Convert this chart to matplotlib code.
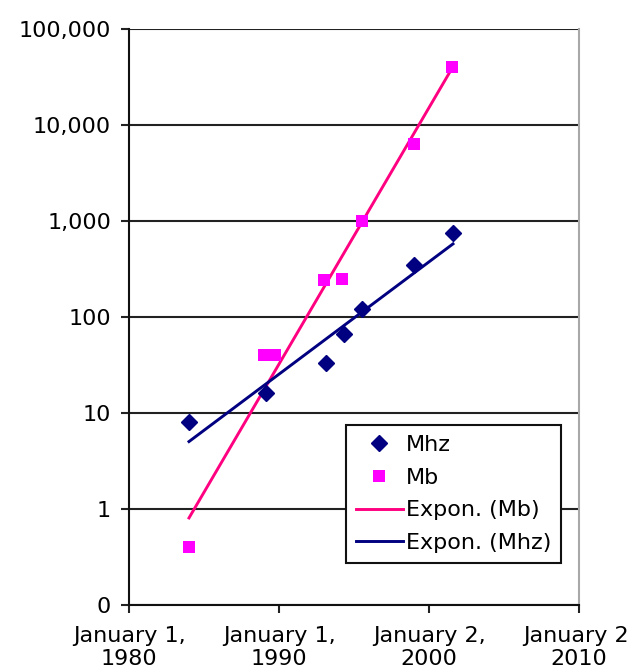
import numpy as np
import matplotlib
matplotlib.use("Agg")
import matplotlib.pyplot as plt
from matplotlib.ticker import FixedLocator, FuncFormatter, NullLocator

# Data (x as decimal years)
mhz_year = [1984.0, 1989.1, 1993.1, 1994.3, 1995.5, 1999.0, 2001.6]
mhz_value = [8, 16, 33, 66, 120, 350, 750]
mb_year = [1984.0, 1989.0, 1989.7, 1993.0, 1994.2, 1995.5, 1999.0, 2001.5]
mb_value = [0.4, 40, 40, 245, 250, 1000, 6300, 40000]

x_ticks = [1980, 1990, 2000, 2010]
x_tick_labels = ["January 1,\n1980", "January 1,\n1990", "January 2,\n2000", "January 2,\n2010"]
y_ticks = [0.1, 1, 10, 100, 1000, 10000, 100000]


def expon_trend(x, y):
    # Excel style exponential trendline: linear fit on log(y)
    slope, icpt = np.polyfit(x, np.log10(y), 1)
    xs = np.linspace(min(x), max(x), 100)
    return xs, 10 ** (slope * xs + icpt)


fig = plt.figure(figsize=(6.3, 6.71), dpi=100)
ax = fig.add_axes([129 / 630, 66 / 671, 450 / 630, 576 / 671])

navy = "#000080"
ax.plot(mhz_year, mhz_value, "D", color=navy, markersize=8, label="Mhz", zorder=4)
ax.plot(mb_year, mb_value, "s", color="#ff00ff", markersize=8, markeredgewidth=0, label="Mb", zorder=4)

xs, ys = expon_trend(mb_year, mb_value)
ax.plot(xs, ys, color="#ff0080", lw=2.1, label="Expon. (Mb)", zorder=3)
xs, ys = expon_trend(mhz_year, mhz_value)
ax.plot(xs, ys, color=navy, lw=2.1, label="Expon. (Mhz)", zorder=3)

ax.set_yscale("log")
ax.set_ylim(0.1, 100000)
ax.set_xlim(1980, 2010)

ax.yaxis.set_major_locator(FixedLocator(y_ticks))
ax.yaxis.set_minor_locator(NullLocator())
ax.yaxis.set_major_formatter(FuncFormatter(lambda v, p: "0" if v < 0.5 else f"{v:,.0f}"))
ax.set_xticks(x_ticks)
ax.set_xticklabels(x_tick_labels)

ax.grid(True, axis="y", color="#222222", lw=1.5)
ax.set_axisbelow(True)

ax.tick_params(axis="both", labelsize=16, length=6, width=1.5, color="#222222")
ax.tick_params(axis="y", pad=7)
ax.tick_params(axis="x", pad=9)

ax.spines["top"].set_visible(False)
ax.spines["right"].set_color("#a8a8a8")
ax.spines["right"].set_linewidth(1.5)
ax.spines["left"].set_color("#111111")
ax.spines["left"].set_linewidth(1.5)
ax.spines["bottom"].set_color("#111111")
ax.spines["bottom"].set_linewidth(1.5)

leg = ax.legend(loc="upper left", bbox_to_anchor=(0.482, 0.3125), borderaxespad=0,
                fontsize=16, fancybox=False, framealpha=1, edgecolor="#111111",
                labelspacing=0.57, handlelength=2.1, handletextpad=0.15, borderpad=0.45)
leg.get_frame().set_linewidth(1.5)

plt.savefig("out.png")
plt.close()
